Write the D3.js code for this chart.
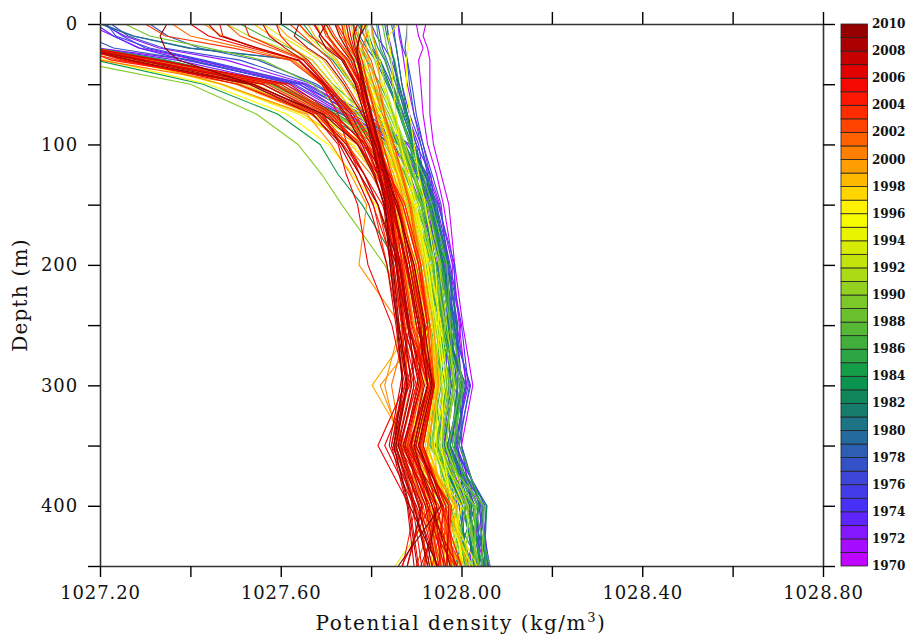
<!DOCTYPE html>
<html>
<head>
<meta charset="utf-8">
<script src="https://cdn.jsdelivr.net/npm/d3@7"></script>
<style>
html,body{margin:0;padding:0;background:#fff}
text{font-family:"DejaVu Serif",serif;fill:#111}
</style>
</head>
<body>
<svg id="chart" width="909" height="637"></svg>
<script>
// standard depth levels (m)
var depths = [0,10,20,30,50,75,100,125,150,200,250,300,350,400,450]
// each row: year, then density at each level as thousandths above 1027 (850 = 1027.850)
var rows_1970s = [
[1970,921,915,925,930,930,930,938,955,972,985,1003,1025,1000,1040,1048],
[1970,900,905,915,905,910,915,925,945,960,982,995,1010,990,1035,1040],
[1971,172,230,288,415,642,745,860,905,925,948,965,1005,975,1030,1038],
[1971,860,862,868,872,880,895,915,930,952,972,998,985,960,1012,1052],
[1972,100,140,195,400,625,740,850,885,910,945,990,1012,985,1000,1010],
[1972,205,255,330,480,660,780,880,925,950,980,975,975,955,1045,1060],
[1973,835,838,845,850,860,880,905,915,930,958,985,1002,1000,1022,1020],
[1973,90,130,190,370,610,735,845,890,925,962,970,965,948,1018,1035],
[1974,190,230,285,390,640,770,870,912,945,975,1000,1015,985,1052,1054],
[1974,850,852,856,860,868,885,910,925,935,950,968,998,972,990,1000],
[1975,210,250,300,420,650,760,865,900,938,970,992,985,965,1038,1063],
[1975,800,812,830,845,862,880,900,932,940,955,978,1020,992,1005,1030],
[1976,215,235,310,430,655,775,875,905,928,965,975,990,980,1056,1045],
[1976,770,785,800,820,845,870,895,918,948,985,985,970,950,1010,990],
[1977,225,262,340,510,672,790,885,920,935,948,965,1008,988,1028,1050],
[1977,860,865,870,880,890,900,915,935,955,968,990,1000,970,1048,1025],
[1977,815,820,825,835,855,878,900,912,922,942,960,978,958,995,1015],
[1978,310,350,420,550,680,775,875,910,942,972,982,1018,995,1042,1058],
[1978,120,170,230,400,630,750,860,895,918,955,972,960,945,1002,1005],
[1978,880,878,875,880,885,895,910,928,938,960,988,992,975,1035,1040],
[1979,205,275,400,640,695,770,870,905,930,940,958,1005,968,985,1022],
[1979,760,775,790,810,835,865,890,908,932,968,978,982,962,1050,1035]
]
var rows_1980s = [
[1980,200,272,396,640,693,772,865,895,915,945,985,970,975,1018,1060],
[1980,830,835,842,850,858,875,895,918,945,965,972,996,1000,1040,1012],
[1981,845,850,856,860,868,880,895,905,922,935,958,1010,968,1015,1045],
[1981,80,125,185,345,580,735,850,890,925,960,980,950,935,1005,1028],
[1982,790,795,805,820,840,865,888,910,918,950,968,985,962,1030,985],
[1982,800,805,815,830,848,872,892,922,940,972,990,965,942,975,1042],
[1983,70,110,160,300,560,690,815,860,895,925,952,1000,975,995,1012],
[1983,600,640,680,715,755,815,865,895,915,942,965,982,965,1056,1050],
[1984,45,85,120,190,428,594,687,727,780,860,930,965,955,1000,1035],
[1984,835,838,842,852,862,878,895,912,935,958,975,940,930,1025,1040],
[1984,775,785,798,815,838,862,885,900,912,930,945,992,985,968,1005],
[1985,650,670,690,720,760,810,860,890,925,965,950,972,950,1010,1048],
[1985,85,130,190,345,590,725,840,875,900,945,968,938,958,1038,1022],
[1986,812,815,820,832,848,865,885,905,920,915,940,980,995,1045,1055],
[1986,60,105,160,300,575,720,835,878,910,938,958,968,948,985,1008],
[1986,760,765,775,790,820,850,875,905,930,955,980,1002,985,1020,1030],
[1987,700,715,735,755,785,825,865,892,912,928,945,955,932,1028,1063],
[1987,510,560,620,670,715,790,850,870,892,935,958,990,955,975,1015],
[1988,825,830,835,842,855,868,885,915,935,968,975,1005,980,1035,995],
[1988,75,115,170,320,585,715,825,860,885,910,935,962,945,990,1000],
[1989,790,792,798,808,825,848,872,895,910,935,950,945,938,1050,1045],
[1989,255,310,440,560,670,740,835,875,915,952,975,982,965,1005,1038],
[1989,760,762,768,780,805,840,868,888,900,922,942,968,950,970,1012],
[1989,720,730,745,765,800,835,860,880,905,940,962,998,972,1012,980]
]
var rows_1990s = [
[1990,30,70,100,130,400,547,638,691,735,830,900,945,935,985,1020],
[1990,770,772,780,795,815,845,870,895,925,955,945,975,955,1010,1040],
[1990,120,150,190,320,600,720,830,865,890,925,955,985,945,965,1005],
[1991,735,745,760,780,805,835,862,885,905,940,965,935,925,1030,1030],
[1991,75,110,165,300,575,705,815,860,882,908,930,955,960,975,995],
[1992,745,750,758,770,800,830,855,878,900,935,925,960,935,1000,965],
[1992,480,530,600,660,708,770,835,868,888,915,950,922,910,970,1020],
[1992,800,802,810,820,830,850,875,895,918,950,968,985,965,1015,1010],
[1993,690,705,725,745,780,820,850,872,892,898,918,945,945,940,980],
[1993,70,100,150,290,520,670,790,845,878,925,945,915,905,990,1000],
[1994,770,770,775,785,800,825,848,870,895,925,940,950,925,965,975],
[1994,560,600,645,685,725,775,825,860,870,890,912,930,915,945,853],
[1994,680,690,710,735,770,810,840,860,890,930,955,970,950,1005,940],
[1995,50,95,150,260,465,640,760,815,855,885,925,905,890,950,1025],
[1995,700,712,735,760,790,820,845,865,895,920,938,945,920,975,960],
[1996,880,880,882,878,878,885,895,905,920,942,950,965,940,985,1000],
[1996,60,100,140,210,440,614,705,760,810,880,915,925,905,945,935],
[1996,735,740,755,770,795,820,842,862,885,900,920,942,915,925,985],
[1996,790,795,800,810,825,845,865,885,900,925,945,960,955,980,1005],
[1997,860,838,842,845,848,855,865,880,895,930,955,935,910,975,950],
[1997,80,115,170,300,545,680,790,835,868,895,908,925,902,1000,975],
[1997,640,660,690,720,755,790,825,855,875,910,935,952,925,965,1035],
[1998,755,760,768,780,795,815,838,858,880,905,925,940,890,930,990],
[1998,55,100,155,280,470,650,755,810,850,885,905,920,935,960,945],
[1998,540,580,625,670,715,765,815,845,865,872,895,912,895,940,1005],
[1998,735,745,755,768,790,812,835,865,890,918,930,945,920,955,930],
[1999,660,675,700,725,760,795,825,850,868,880,900,915,888,925,1000],
[1999,65,105,160,295,500,665,770,820,855,875,895,802,880,945,940],
[1999,590,615,655,695,735,780,822,850,875,905,915,935,905,990,965],
[1999,780,785,790,795,810,830,850,870,885,910,930,948,925,970,1015]
]
var rows_2000s = [
[2000,60,100,150,270,470,658,712,755,790,773,865,830,862,920,950],
[2000,740,745,760,775,795,815,835,858,875,905,925,820,872,950,990],
[2000,430,470,545,630,690,745,790,822,845,870,895,935,905,985,935],
[2000,800,805,810,815,820,830,845,865,885,915,938,950,925,905,1000],
[2001,695,705,720,745,775,800,815,835,848,862,880,845,868,930,960],
[2001,360,400,520,625,695,760,800,835,865,895,915,925,890,960,985],
[2001,55,95,145,200,510,680,745,800,838,870,888,910,878,912,920],
[2001,785,790,780,790,805,825,850,870,888,910,930,940,915,965,970],
[2002,722,735,750,770,790,808,822,835,845,858,875,880,850,922,955],
[2002,480,510,580,650,700,750,795,830,860,892,915,930,905,945,900],
[2002,70,110,160,300,590,710,770,810,845,885,910,925,895,975,975],
[2002,760,770,785,800,815,830,850,868,885,905,925,935,880,915,945],
[2003,705,720,740,760,780,800,818,835,850,878,900,912,882,935,1000],
[2003,40,90,135,240,540,690,750,785,815,845,868,868,860,898,925],
[2003,300,345,495,620,690,745,790,825,860,900,925,940,915,965,960],
[2003,620,650,680,710,745,785,815,832,848,862,880,925,895,890,990],
[2003,80,120,170,290,570,700,780,835,870,905,930,900,865,950,915],
[2003,690,700,725,748,775,795,808,820,840,872,892,938,912,958,978],
[2004,520,530,590,655,700,765,805,830,845,858,875,888,858,945,918],
[2004,725,740,755,770,785,800,815,842,862,890,912,908,880,925,950],
[2004,65,105,155,225,560,690,735,775,805,835,860,895,866,905,985],
[2004,760,765,772,780,792,810,826,845,860,885,915,940,910,965,935],
[2004,50,100,150,320,610,715,790,840,875,910,925,882,855,898,870],
[2004,640,665,705,740,770,792,812,828,838,855,870,915,890,978,965],
[2005,690,705,725,750,775,795,812,822,835,850,868,900,862,908,945],
[2005,465,472,547,638,691,727,747,775,804,850,868,880,853,892,912],
[2005,75,115,165,250,530,680,738,785,825,868,890,925,885,940,955],
[2005,735,740,748,760,778,800,820,838,852,868,882,935,905,965,985],
[2005,590,600,625,660,705,760,800,840,870,905,925,875,845,915,880],
[2005,110,140,185,330,600,712,775,808,828,858,880,928,900,955,1000],
[2006,45,95,148,262,505,672,727,745,770,793,846,875,815,885,905],
[2006,700,715,735,755,775,790,805,820,835,845,860,885,830,895,930],
[2006,400,440,535,640,695,740,785,815,835,862,885,910,870,930,868],
[2006,750,755,762,772,785,802,818,835,850,875,905,938,908,945,975],
[2006,85,125,175,300,585,705,770,815,855,895,920,902,875,960,950],
[2006,675,690,712,738,768,790,810,825,842,880,905,925,895,925,962],
[2007,60,110,158,295,560,695,730,765,795,835,855,870,845,880,895],
[2007,560,575,610,650,698,755,790,815,845,878,900,940,915,958,910],
[2007,745,750,758,768,782,798,815,830,845,858,872,910,875,925,990],
[2007,672,690,715,740,765,785,802,815,832,865,885,865,840,900,945],
[2007,90,130,180,330,620,720,785,830,860,890,915,925,885,935,965],
[2008,70,112,162,285,540,685,745,785,815,855,880,905,872,920,945],
[2008,440,465,550,640,695,745,780,808,828,842,858,878,850,882,902],
[2008,780,775,770,772,778,790,808,838,858,885,908,932,898,972,968],
[2008,720,730,745,762,775,790,805,820,838,865,885,895,865,912,880],
[2009,640,630,660,700,740,780,810,828,842,855,870,890,860,905,935],
[2009,65,108,160,268,530,670,735,775,815,862,882,918,888,945,925],
[2009,770,760,765,775,785,798,815,832,848,880,905,925,895,935,975],
[2010,348,333,344,373,536,695,770,805,830,848,862,880,855,895,925],
[2010,790,775,768,770,782,800,818,835,855,895,918,935,905,955,860],
[2010,700,685,700,735,765,785,802,818,832,842,858,870,850,885,948]
]
var x_ticks = [1027.2,1027.4,1027.6,1027.8,1028.0,1028.2,1028.4,1028.6,1028.8]
var x_labels = ["1027.20","1027.60","1028.00","1028.40","1028.80"]
var y_ticks = [0,50,100,150,200,250,300,350,400,450]
var bar_years = d3.range(1970,2010)
var color_years = [1970,1972,1974,1976,1978,1980,1982,1984,1986,1988,1990,1992,1994,1996,1998,2000,2002,2004,2006,2008,2010]
var color_stops = ["#cc00ff","#9910ff","#4a2cff","#4040e0","#3058c0","#207090","#128060","#089a4a","#38aa40","#60bd30","#85cc25","#b8e010","#e0f000","#ffff00","#ffc800","#ff9000","#ff5000","#ff2000","#f00000","#b80000","#880000"]

var svg = d3.select("#chart")
var left = 100, right = 823, top_y = 24, bottom = 566
var x = d3.scaleLinear().domain([1027.2,1028.8]).range([left,right])
var y = d3.scaleLinear().domain([0,450]).range([top_y,bottom])
var color = d3.scaleLinear().domain(color_years).range(color_stops).interpolate(d3.interpolateRgb)

svg.append("clipPath").attr("id","plot_clip").append("rect")
	.attr("x",left).attr("y",top_y).attr("width",right-left).attr("height",bottom-top_y)

var all_rows = rows_1970s.concat(rows_1980s,rows_1990s,rows_2000s)
var line = d3.line()
	.x(function(d){return x(1027+d/1000)})
	.y(function(d,i){return y(depths[i])})

svg.append("g").attr("clip-path","url(#plot_clip)")
	.selectAll("path").data(all_rows).enter().append("path")
	.attr("d",function(r){return line(r.slice(1))})
	.attr("fill","none")
	.attr("stroke",function(r){return color(r[0])})
	.attr("stroke-width",1.1)

function style_axis(g){
	g.select(".domain").attr("stroke","#333").attr("stroke-width",1.6)
	g.selectAll(".tick line").attr("stroke","#000").attr("stroke-width",1.4)
	g.selectAll("text").attr("font-size",18).attr("letter-spacing",0.9).attr("fill","#111")
		.attr("font-family","DejaVu Serif")
}
function x_fmt(v){
	var s = v.toFixed(2)
	return x_labels.indexOf(s)>=0 ? s : ""
}
function y_fmt(v){ return v%100==0 ? v : "" }

svg.append("g").attr("transform","translate(0,"+bottom+")")
	.call(d3.axisBottom(x).tickValues(x_ticks).tickSize(11).tickSizeOuter(0).tickPadding(9).tickFormat(x_fmt))
	.call(style_axis)
svg.append("g").attr("transform","translate(0,"+top_y+")")
	.call(d3.axisTop(x).tickValues(x_ticks).tickSize(12).tickSizeOuter(0).tickFormat(""))
	.call(style_axis)
svg.append("g").attr("transform","translate("+left+",0)")
	.call(d3.axisLeft(y).tickValues(y_ticks).tickSize(12).tickSizeOuter(0).tickPadding(10).tickFormat(y_fmt))
	.call(style_axis)
svg.append("g").attr("transform","translate("+right+",0)")
	.call(d3.axisRight(y).tickValues(y_ticks).tickSize(12).tickSizeOuter(0).tickFormat(""))
	.call(style_axis)

// axis titles
var xt = svg.append("text").attr("x",461).attr("y",630).attr("text-anchor","middle")
	.attr("font-size",20).attr("letter-spacing",1.6)
xt.append("tspan").text("Potential density (kg/m")
xt.append("tspan").text("3").attr("font-size",13).attr("dy",-8)
xt.append("tspan").text(")").attr("dy",8)

svg.append("text").attr("transform","translate(27,295) rotate(-90)").attr("text-anchor","middle")
	.attr("font-size",20).attr("letter-spacing",1.2).text("Depth (m)")

// colour bar
var bar_y = d3.scaleLinear().domain([1970,2010]).range([bottom,top_y])
svg.append("g").selectAll("rect").data(bar_years).enter().append("rect")
	.attr("x",841).attr("width",26.5)
	.attr("y",function(d){return bar_y(d+1)})
	.attr("height",function(d){return bar_y(d)-bar_y(d+1)})
	.attr("fill",function(d){return color(d+0.5)})
	.attr("stroke","#222").attr("stroke-width",0.8)
svg.append("g").selectAll("text").data(d3.range(1970,2011,2)).enter().append("text")
	.attr("x",872).attr("y",function(d){return bar_y(d)+4})
	.attr("font-size",12).attr("font-weight","bold")
	.text(function(d){return d})
</script>
</body>
</html>
